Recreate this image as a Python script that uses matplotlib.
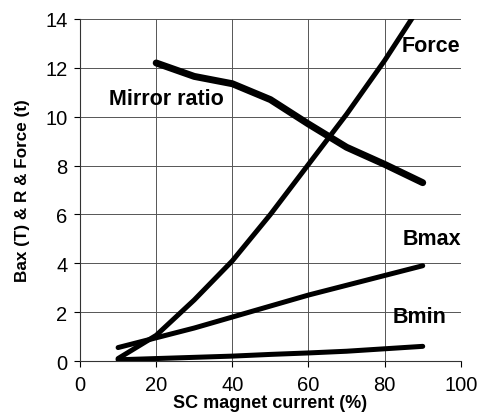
import matplotlib
matplotlib.use("Agg")
import matplotlib.pyplot as plt

x = [10, 20, 30, 40, 50, 60, 70, 80, 90]
x_mirror = [20, 30, 40, 50, 60, 70, 80, 90]
mirror = [12.2, 11.65, 11.35, 10.7, 9.7, 8.75, 8.05, 7.3]
force = [0.1, 1.05, 2.5, 4.1, 6.0, 8.05, 10.1, 12.3, 14.7]
bmax = [0.55, 0.95, 1.35, 1.8, 2.25, 2.7, 3.1, 3.5, 3.9]
bmin = [0.05, 0.1, 0.15, 0.2, 0.27, 0.33, 0.4, 0.5, 0.6]

plt.rcParams['font.family'] = ['Liberation Sans', 'DejaVu Sans']

fig = plt.figure(figsize=(4.8, 4.14), dpi=100)
ax = fig.add_axes([0.1667, 0.1256, 0.7933, 0.8261])

ax.plot(x_mirror, mirror, color='black', lw=5, solid_capstyle='round')
ax.plot(x, force, color='black', lw=3.6, solid_capstyle='round')
ax.plot(x, bmax, color='black', lw=3.6, solid_capstyle='round')
ax.plot(x, bmin, color='black', lw=3.6, solid_capstyle='round')

ax.text(22.8, 10.75, 'Mirror ratio', fontsize=15.5, fontweight='bold', ha='center', va='center')
ax.text(92.1, 12.9, 'Force', fontsize=15.5, fontweight='bold', ha='center', va='center')
ax.text(92.4, 5.0, 'Bmax', fontsize=15.5, fontweight='bold', ha='center', va='center')
ax.text(89.2, 1.84, 'Bmin', fontsize=15.5, fontweight='bold', ha='center', va='center')

ax.set_xlim(0, 100)
ax.set_ylim(0, 14)
ax.set_xticks([0, 20, 40, 60, 80, 100])
ax.set_yticks([0, 2, 4, 6, 8, 10, 12, 14])
ax.tick_params(labelsize=14.5, direction='out', length=4, color='black')
ax.tick_params(axis='x', pad=6)
ax.tick_params(axis='y', pad=5)
ax.grid(True, color='#555555', lw=0.7)
for s in ['top', 'right']:
    ax.spines[s].set_visible(False)
for s in ['left', 'bottom']:
    ax.spines[s].set_color('#333333')
ax.set_xlabel('SC magnet current (%)', fontsize=13, fontweight='bold', labelpad=0)
ax.set_ylabel('Bax (T) & R & Force (t)', fontsize=12.3, fontweight='bold', labelpad=11)

fig.savefig('out.png', dpi=100)
